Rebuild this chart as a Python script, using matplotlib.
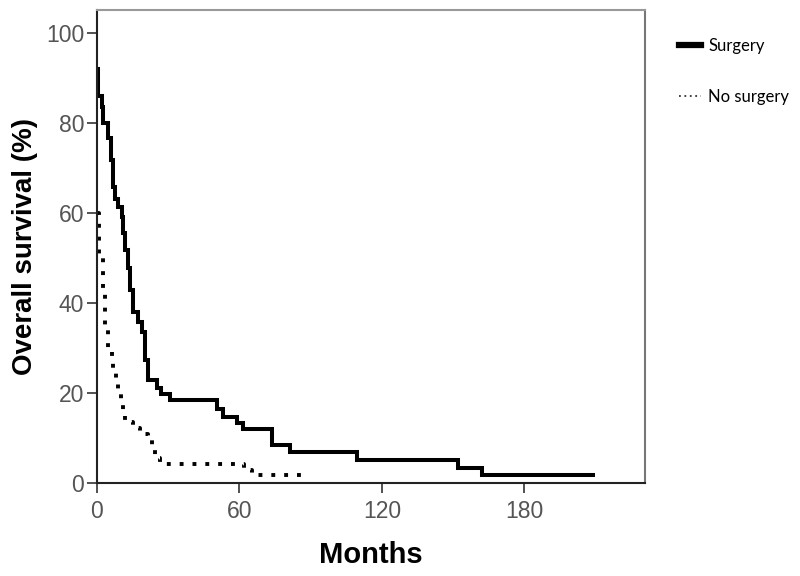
import matplotlib
matplotlib.use("Agg")
import matplotlib.pyplot as plt
from matplotlib.lines import Line2D

# Kaplan-Meier step data (months, % surviving after each drop)
surg_t = [0, 0.5, 2.0, 2.5, 4.6, 5.9, 6.7, 7.6, 8.8, 10.5, 10.9, 11.8, 13.0, 13.9, 15.2, 17.3,
          19.0, 20.2, 21.5, 25.3, 27.0, 30.7, 50.5, 53.0, 59.0, 61.5, 73.7, 81.3, 109.5, 152, 162, 209]
surg_s = [92, 86, 83.5, 80, 76.5, 71.8, 65.8, 63, 61.3, 59.1, 55.6, 51.8, 47.8, 42.9, 38, 35.8,
          33.6, 27.3, 22.9, 21.1, 19.7, 18.4, 16.5, 14.7, 13.3, 11.9, 8.5, 6.8, 5.1, 3.4, 1.7, 1.7]

nosurg_t = [0, 0.8, 2.5, 3.4, 4.6, 6.3, 6.7, 8.0, 8.8, 10.1, 10.9, 11.8, 15.2, 18.1, 21.5, 23.2,
            24.4, 26.5, 62.0, 65.5, 87.6]
nosurg_s = [60, 50, 43, 35, 30, 27, 25, 22.4, 20, 18, 15.8, 13.5, 12.2, 10.9, 9.6, 7.8,
            5.6, 4.2, 2.9, 1.8, 1.8]

labels = ["Surgery", "No surgery"]
xticks = [0, 60, 120, 180]
yticks = [0, 20, 40, 60, 80, 100]

fig = plt.figure(figsize=(8, 5.76), dpi=100)
ax = fig.add_axes([0.121, 0.1615, 0.685, 0.821])

ax.step(surg_t, surg_s, where="post", color="black", lw=2.9, solid_joinstyle="miter")
ax.step(nosurg_t, nosurg_s, where="post", color="black", lw=2.8,
        linestyle=(0, (1, 2.3)), dash_capstyle="butt")

ax.set_xlim(0, 230.7)
ax.set_ylim(0, 105)
ax.set_xticks(xticks)
ax.set_yticks(yticks)
ax.tick_params(direction="out", length=7, width=1.2, color="#333333", labelcolor="#555555",
               labelsize=16.5)
ax.tick_params(axis="y", pad=2)
ax.tick_params(axis="x", pad=5)
for lab in ax.get_xticklabels() + ax.get_yticklabels():
    lab.set_family(["Liberation Sans", "DejaVu Sans"])

ax.spines["left"].set_color("#222222")
ax.spines["bottom"].set_color("#222222")
ax.spines["left"].set_linewidth(1.5)
ax.spines["bottom"].set_linewidth(1.5)
ax.spines["top"].set_color("#999999")
ax.spines["right"].set_color("#777777")
ax.spines["top"].set_linewidth(1.5)
ax.spines["right"].set_linewidth(1.5)

ax.set_xlabel("Months", fontsize=21, fontweight="bold", family=["Liberation Sans", "DejaVu Sans"],
              labelpad=13)
ax.set_ylabel("Overall survival (%)", fontsize=20, fontweight="bold",
              family=["Liberation Sans", "DejaVu Sans"], labelpad=6)

handles = [Line2D([], [], color="black", lw=4.5),
           Line2D([], [], color="#333333", lw=1.3, linestyle=(0, (1, 2.0)))]
fig.legend(handles, labels, loc="upper left", bbox_to_anchor=(0.83, 0.96), frameon=False,
           handlelength=1.3, handletextpad=0.45, labelspacing=2.1,
           prop={"family": ["Lato", "DejaVu Sans"], "size": 12})

fig.savefig("out.png", dpi=100)
